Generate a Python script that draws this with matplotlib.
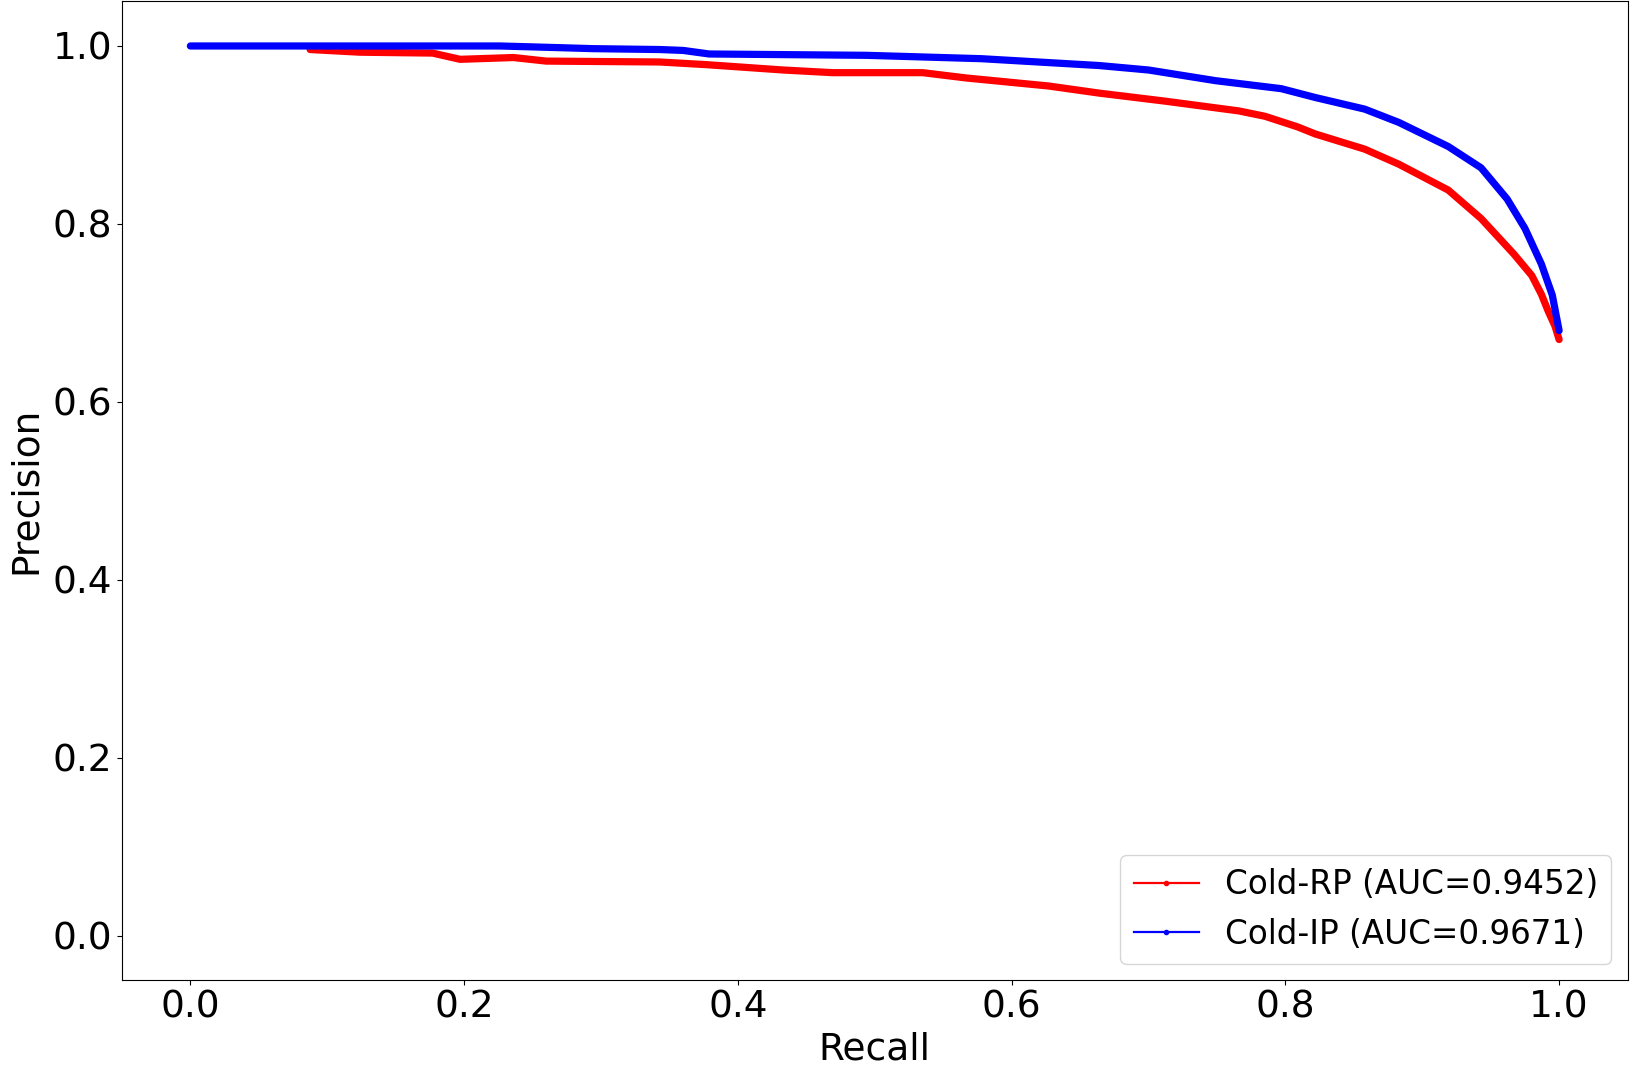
"""Precision-Recall-Kurven für Cold-RP und Cold-IP."""

import matplotlib

matplotlib.use("Agg")

import matplotlib.pyplot as plt
from matplotlib.lines import Line2D

# Werte
RP_RECALL = [0.0875, 0.124, 0.177, 0.197, 0.236, 0.26, 0.343, 0.377, 0.433, 0.469,
             0.535, 0.567, 0.627, 0.664, 0.712, 0.766, 0.785, 0.809, 0.822, 0.858, 0.883,
             0.919, 0.943, 0.967, 0.98, 0.987, 0.992, 0.997, 1.0]
RP_PRECISION = [0.996, 0.993, 0.992, 0.985, 0.987, 0.983, 0.982, 0.979, 0.973, 0.970,
                0.970, 0.964, 0.955, 0.947, 0.938, 0.927, 0.921, 0.909, 0.901, 0.884, 0.867,
                0.838, 0.806, 0.766, 0.742, 0.721, 0.702, 0.685, 0.670]

IP_RECALL = [0.0, 0.226, 0.272, 0.294, 0.343, 0.36, 0.379, 0.494, 0.578, 0.664,
             0.700, 0.749, 0.797, 0.822, 0.858, 0.883, 0.919, 0.943, 0.962, 0.975,
             0.987, 0.995, 1.0]
IP_PRECISION = [1.0, 1.0, 0.998, 0.997, 0.996, 0.995, 0.991, 0.9895, 0.9857, 0.978,
                0.973, 0.961, 0.952, 0.942, 0.929, 0.914, 0.887, 0.863, 0.828, 0.795,
                0.755, 0.72, 0.68]

LABELS = ["Cold-RP (AUC=0.9452)", "Cold-IP (AUC=0.9671)"]
COLORS = ["red", "blue"]
TICKS = [0.0, 0.2, 0.4, 0.6, 0.8, 1.0]

FONT = 27

fig = plt.figure(figsize=(16.3, 10.7), dpi=100)
ax = fig.add_axes([0.0748, 0.0841, 0.9237, 0.9145])

series = [(RP_RECALL, RP_PRECISION), (IP_RECALL, IP_PRECISION)]
for (rec, prec), color in zip(series, COLORS):
    ax.plot(rec, prec, color=color, linewidth=5.2, solid_joinstyle="round",
            solid_capstyle="round")

ax.set_xlim(-0.05, 1.05)
ax.set_ylim(-0.05, 1.05)
ax.set_xticks(TICKS)
ax.set_yticks(TICKS)
ax.tick_params(axis="both", labelsize=FONT)
ax.set_xlabel("Recall", fontsize=FONT, labelpad=4)
ax.set_ylabel("Precision", fontsize=FONT, labelpad=6)

# Legenden-Handles wie im Original: dünne Linie mit Punkt-Marker
handles = [Line2D([], [], color=c, linewidth=1.6, marker=".", markersize=6)
           for c in COLORS]
ax.legend(handles, LABELS, loc="lower right", fontsize=23.5, handlelength=2.0)

fig.savefig("out.png", dpi=100)
plt.close(fig)
